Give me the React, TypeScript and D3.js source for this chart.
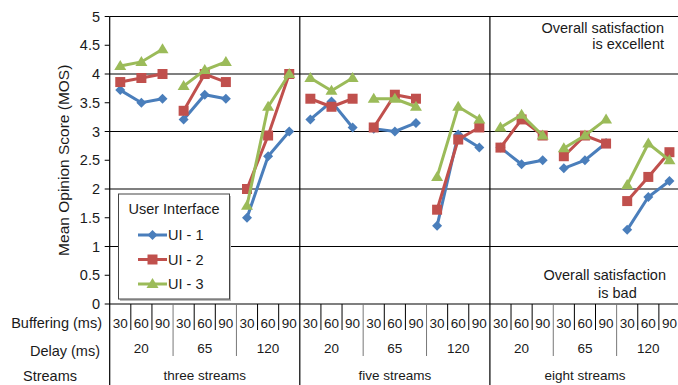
import React from "react";
import * as d3 from "d3";

// categories
const streams = ["three streams", "five streams", "eight streams"];
const delays = ["20", "65", "120"];
const buffering = ["30", "60", "90"];
const seriesNames = ["UI - 1", "UI - 2", "UI - 3"];
const seriesColors = ["#4a7ebb", "#c0504d", "#9bbb59"];
const yTicks = [0, 0.5, 1, 1.5, 2, 2.5, 3, 3.5, 4, 4.5, 5];

// MOS values, one per (stream, delay, buffering) combination
const ui1 = [3.72, 3.5, 3.57, 3.21, 3.64, 3.57, 1.5, 2.57, 3.0, 3.21, 3.52, 3.07, 3.05, 3.0, 3.15, 1.36, 2.95, 2.72, 2.72, 2.43, 2.5, 2.36, 2.5, 2.8, 1.29, 1.86, 2.14];
const ui2 = [3.86, 3.93, 4.0, 3.36, 4.0, 3.86, 2.0, 2.93, 4.0, 3.57, 3.43, 3.57, 3.07, 3.64, 3.57, 1.64, 2.86, 3.07, 2.72, 3.21, 2.93, 2.57, 2.93, 2.79, 1.79, 2.21, 2.64];
const ui3 = [4.14, 4.21, 4.43, 3.79, 4.07, 4.21, 1.71, 3.43, 4.0, 3.93, 3.71, 3.93, 3.57, 3.57, 3.43, 2.21, 3.43, 3.21, 3.07, 3.29, 2.93, 2.71, 2.93, 3.21, 2.07, 2.79, 2.5];

const W = 678;
const H = 385;
const font = "'Liberation Sans', Arial, sans-serif";
const ink = "#1a1a1a";

const marker = (k: number, x: number, y: number) => {
  if (k === 0) return `M${x},${y - 5}L${x + 5},${y}L${x},${y + 5}L${x - 5},${y}Z`;
  if (k === 1) return `M${x - 5},${y - 5}h10v10h-10Z`;
  return `M${x},${y - 6}L${x + 6},${y + 4}L${x - 6},${y + 4}Z`;
};

export default function App() {
  const cats = d3.range(27);
  const x = d3.scaleBand<number>().domain(cats).range([109.7, 680]).padding(0);
  const y = d3.scaleLinear().domain([0, 5]).range([304, 16.5]);
  const bw = x.bandwidth();
  const x0 = x(0)!;
  const line = d3
    .line<[number, number]>()
    .x((d) => x(d[0])! + bw / 2)
    .y((d) => y(d[1]));
  const series = [ui1, ui2, ui3];

  return (
    <svg width={W} height={H} style={{ position: "absolute", left: 0, top: 0 }} fontFamily={font}>
      <rect width={W} height={H} fill="#fff" />
      {/* grid */}
      {[1, 2, 3, 4, 5].map((v) => (
        <line key={v} x1={x0} x2={W} y1={y(v)} y2={y(v)} stroke="#000" strokeWidth={1.2} />
      ))}
      {yTicks.map((v) => (
        <g key={v}>
          <line x1={x0 - 5} x2={x0} y1={y(v)} y2={y(v)} stroke="#000" />
          <text x={100} y={y(v)} dy="0.35em" textAnchor="end" fontSize={14.5} fill={ink}>
            {v}
          </text>
        </g>
      ))}
      <line x1={x0} x2={x0} y1={y(5)} y2={H} stroke="#000" strokeWidth={1.2} />
      <line x1={x0} x2={W} y1={y(0)} y2={y(0)} stroke="#000" strokeWidth={1.2} />
      <text transform={`translate(69,${(y(0) + y(5)) / 2}) rotate(-90)`} textAnchor="middle" fontSize={15.5} fill={ink}>
        Mean Opinion Score (MOS)
      </text>

      {/* category table */}
      {cats.map((i) => (
        <g key={i}>
          <text x={x(i)! + bw / 2} y={323} dy="0.35em" textAnchor="middle" fontSize={13.5} fill={ink}>
            {buffering[i % 3]}
          </text>
          {i > 0 && i % 3 !== 0 && <line x1={x(i)} x2={x(i)} y1={304} y2={330} stroke="#000" />}
          {i % 3 === 0 && i % 9 !== 0 && <line x1={x(i)} x2={x(i)} y1={304} y2={356} stroke="#777" />}
          {i % 9 === 0 && i > 0 && <line x1={x(i)} x2={x(i)} y1={y(5)} y2={H} stroke="#000" strokeWidth={1.2} />}
        </g>
      ))}
      {d3.range(9).map((g) => (
        <text key={g} x={x(g * 3)! + bw * 1.5} y={348} dy="0.35em" textAnchor="middle" fontSize={13.5} fill={ink}>
          {delays[g % 3]}
        </text>
      ))}
      {streams.map((s, g) => (
        <text key={s} x={x(g * 9)! + bw * 4.5} y={375} dy="0.35em" textAnchor="middle" fontSize={13.5} fill={ink}>
          {s}
        </text>
      ))}
      <text x={102} y={323} dy="0.35em" textAnchor="end" fontSize={14.5} fill={ink}>Buffering (ms)</text>
      <text x={100} y={351} dy="0.35em" textAnchor="end" fontSize={14.5} fill={ink}>Delay (ms)</text>
      <text x={23} y={376} dy="0.35em" fontSize={14.5} fill={ink}>Streams</text>

      {/* series: one polyline per delay group */}
      {series.map((vals, k) => (
        <g key={k}>
          {d3.range(9).map((g) => (
            <path
              key={g}
              d={line([0, 1, 2].map((j) => [g * 3 + j, vals[g * 3 + j]] as [number, number]))!}
              fill="none"
              stroke={seriesColors[k]}
              strokeWidth={3}
            />
          ))}
          {vals.map((v, i) => (
            <path key={i} d={marker(k, x(i)! + bw / 2, y(v))} fill={seriesColors[k]} />
          ))}
        </g>
      ))}

      {/* annotations */}
      <text x={664} y={28} dy="0.35em" textAnchor="end" fontSize={14.5} fill={ink}>Overall satisfaction</text>
      <text x={664} y={44} dy="0.35em" textAnchor="end" fontSize={14.5} fill={ink}>is excellent</text>
      <text x={666} y={275} dy="0.35em" textAnchor="end" fontSize={14.5} fill={ink}>Overall satisfaction</text>
      <text x={598} y={293} dy="0.35em" fontSize={14.5} fill={ink}>is bad</text>

      {/* legend */}
      <g>
        <rect x={120} y={196} width={111} height={105} fill="#bbb" />
        <rect x={118.5} y={194} width={111} height={105} fill="#fff" stroke="#444" />
        <text x={174} y={209} dy="0.35em" textAnchor="middle" fontSize={14.5} fill={ink}>User Interface</text>
        {seriesNames.map((n, k) => (
          <g key={n} transform={`translate(0,${235 + k * 24.5})`}>
            <line x1={138} x2={167} stroke={seriesColors[k]} strokeWidth={3} />
            <path d={marker(k, 152.5, 0)} fill={seriesColors[k]} />
            <text x={168} dy="0.35em" fontSize={14.5} fill={ink}>{n}</text>
          </g>
        ))}
      </g>
    </svg>
  );
}
